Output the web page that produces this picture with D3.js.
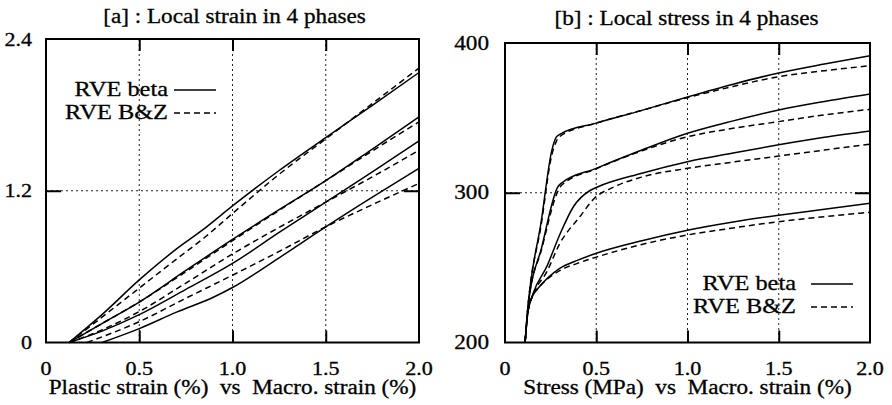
<!DOCTYPE html>
<html>
<head>
<meta charset="utf-8">
<script src="https://cdn.jsdelivr.net/npm/d3@7"></script>
<style>
  html, body { margin: 0; padding: 0; background: #fff; }
  svg text { font-family: "Liberation Serif", "Times New Roman", serif; fill: #000; stroke: #000; stroke-width: 0.3px; white-space: pre; }
</style>
</head>
<body>
<svg id="chart" width="892" height="405"></svg>
<script>
// ---------------- DATA ----------------
// Panel [a]: local plastic strain (%) vs macro strain (%)
const strainTicksX = [0, 0.5, 1.0, 1.5, 2.0];
const strainTickLabelsX = ["0", "0.5", "1.0", "1.5", "2.0"];
const strainTicksY = [0, 1.2, 2.4];
const strainTickLabelsY = ["0", "1.2", "2.4"];

const strainBeta1 = [[0.124,0],[0.3,0.22],[0.5,0.495],[0.7,0.74],[0.84,0.89],[1.0,1.08],[1.25,1.36],[1.5,1.62],[1.75,1.875],[2.0,2.135]];
const strainBZ1   = [[0.124,0],[0.3,0.20],[0.5,0.43],[0.7,0.66],[0.85,0.83],[1.0,1.02],[1.25,1.33],[1.5,1.61],[1.75,1.89],[2.0,2.17]];
const strainBeta2 = [[0.124,0],[0.3,0.15],[0.5,0.32],[0.75,0.57],[1.0,0.815],[1.25,1.05],[1.5,1.28],[1.75,1.53],[2.0,1.785]];
const strainBZ2   = [[0.124,0],[0.3,0.15],[0.5,0.32],[0.75,0.56],[1.0,0.805],[1.25,1.045],[1.5,1.28],[1.75,1.515],[2.0,1.745]];
const strainBeta3 = [[0.124,0],[0.3,0.09],[0.5,0.22],[0.75,0.42],[1.0,0.625],[1.25,0.87],[1.5,1.11],[1.75,1.35],[2.0,1.595]];
const strainBZ3   = [[0.124,0],[0.3,0.10],[0.5,0.245],[0.75,0.47],[1.0,0.70],[1.25,0.91],[1.5,1.11],[1.75,1.31],[2.0,1.52]];
const strainBeta4 = [[0.30,0],[0.5,0.11],[0.7,0.24],[0.9,0.36],[1.0,0.435],[1.25,0.67],[1.5,0.915],[1.75,1.15],[2.0,1.377]];
const strainBZ4   = [[0.22,0],[0.5,0.165],[0.75,0.35],[1.0,0.532],[1.25,0.72],[1.5,0.915],[1.75,1.09],[2.0,1.258]];

// Panel [b]: local stress (MPa) vs macro strain (%)
const stressTicksX = [0, 0.5, 1.0, 1.5, 2.0];
const stressTickLabelsX = ["0", "0.5", "1.0", "1.5", "2.0"];
const stressTicksY = [200, 300, 400];
const stressTickLabelsY = ["200", "300", "400"];

const stressBeta1 = [[0.11,200],[0.12,216],[0.2,282],[0.256,328],[0.28,337],[0.3,339],[0.5,346.5],[0.75,355],[1.0,364],[1.25,372.5],[1.5,380],[1.75,386],[2.0,391.5]];
const stressBZ1   = [[0.11,200],[0.12,216],[0.2,280],[0.256,325],[0.28,334],[0.3,337.5],[0.5,346.5],[0.75,355],[1.0,363.5],[1.25,371],[1.5,377.5],[1.75,381.5],[2.0,384.8]];
const stressBeta2 = [[0.11,200],[0.13,228],[0.2,263],[0.29,304],[0.31,306.5],[0.5,316.3],[0.75,328.5],[1.0,339.7],[1.25,348],[1.5,355.3],[1.75,361],[2.0,366]];
const stressBZ2   = [[0.11,200],[0.13,228],[0.2,262],[0.29,301],[0.31,305],[0.5,316],[0.75,328],[1.0,337.4],[1.25,343],[1.5,347.5],[1.75,352],[2.0,355.7]];
const stressBeta3 = [[0.11,200],[0.125,220],[0.155,233],[0.23,251],[0.30,272],[0.374,290.5],[0.466,301.5],[0.5,303.5],[0.75,313],[1.0,320.7],[1.25,326.5],[1.5,332],[1.75,337],[2.0,341.2]];
const stressBZ3   = [[0.11,200],[0.125,220],[0.155,232],[0.228,247],[0.30,266],[0.41,284],[0.49,296.3],[0.6,304],[0.75,310.5],[1.0,316.3],[1.25,320.5],[1.5,324.5],[1.75,328.5],[2.0,332.5]];
const stressBeta4 = [[0.11,200],[0.125,220],[0.155,232],[0.18,236],[0.3,249.5],[0.4,255],[0.5,259.6],[0.75,268],[1.0,275],[1.25,280.5],[1.5,285],[1.75,289],[2.0,293]];
const stressBZ4   = [[0.11,200],[0.125,220],[0.155,232],[0.18,236],[0.3,248],[0.4,253],[0.5,257],[0.75,265.5],[1.0,271.8],[1.25,276.5],[1.5,280.7],[1.75,284],[2.0,287]];

const legendLabels = ["RVE beta", "RVE B&Z"];

// ---------------- DRAWING ----------------
const svg = d3.select("#chart");
const SX = 1.16; // horizontal stretch of the scanned type

function label(g, x, y, str, size, anchor) {
  g.append("text")
    .attr("transform", `translate(${x},${y}) scale(${SX},1)`)
    .attr("text-anchor", anchor || "middle")
    .style("font-size", size + "px")
    .text(str);
}

function panel(cfg) {
  const x = d3.scaleLinear().domain(cfg.xDomain).range([cfg.left, cfg.right]);
  const y = d3.scaleLinear().domain(cfg.yDomain).range([cfg.bottom, cfg.top]);
  const g = svg.append("g");

  // dotted grid
  const gx = cfg.xTicks.slice(1, -1), gy = cfg.yTicks.slice(1, -1);
  g.selectAll(".gx").data(gx).join("line")
    .attr("x1", d => x(d)).attr("x2", d => x(d))
    .attr("y1", cfg.top).attr("y2", cfg.bottom)
    .attr("stroke", "#222").attr("stroke-width", 1).attr("stroke-dasharray", "2,3");
  g.selectAll(".gy").data(gy).join("line")
    .attr("x1", cfg.left).attr("x2", cfg.right)
    .attr("y1", d => y(d)).attr("y2", d => y(d))
    .attr("stroke", "#222").attr("stroke-width", 1).attr("stroke-dasharray", "2,3");

  // axes with inward ticks (bottom/top/left/right)
  const axB = d3.axisBottom(x).tickValues(gx).tickSize(-12).tickFormat("");
  const axT = d3.axisTop(x).tickValues(gx).tickSize(-12).tickFormat("");
  const axL = d3.axisLeft(y).tickValues(gy).tickSize(-15).tickFormat("");
  const axR = d3.axisRight(y).tickValues(gy).tickSize(-15).tickFormat("");
  [[axB, `translate(0,${cfg.bottom})`], [axT, `translate(0,${cfg.top})`],
   [axL, `translate(${cfg.left},0)`], [axR, `translate(${cfg.right},0)`]].forEach(([ax, tr]) => {
    const a = g.append("g").attr("transform", tr).call(ax);
    a.select(".domain").remove();
    a.selectAll(".tick line").attr("stroke", "#000").attr("stroke-width", 2);
  });

  // frame
  g.append("rect").attr("x", cfg.left).attr("y", cfg.top)
    .attr("width", cfg.right - cfg.left).attr("height", cfg.bottom - cfg.top)
    .attr("fill", "none").attr("stroke", "#000").attr("stroke-width", 2);

  // tick labels
  cfg.xTicks.forEach((t, i) => label(g, x(t), cfg.bottom + 32, cfg.xLabels[i], 19, "middle"));
  cfg.yTicks.forEach((t, i) => label(g, cfg.yLabelX, y(t) + 6.5, cfg.yLabels[i], cfg.yLabelSize, "end"));

  // curves
  const line = d3.line().x(d => x(d[0])).y(d => y(d[1])).curve(d3.curveMonotoneX);
  cfg.solid.forEach(s => g.append("path").attr("d", line(s))
    .attr("fill", "none").attr("stroke", "#000").attr("stroke-width", 1.5));
  cfg.dashed.forEach(s => g.append("path").attr("d", line(s))
    .attr("fill", "none").attr("stroke", "#000").attr("stroke-width", 1.5).attr("stroke-dasharray", "6,4"));

  // legend
  const L = cfg.legend;
  label(g, L.textRight, L.y1 + 6, legendLabels[0], 21, "end");
  label(g, L.textRight, L.y2 + 6, legendLabels[1], 21, "end");
  g.append("line").attr("x1", L.lx1).attr("x2", L.lx2).attr("y1", L.y1).attr("y2", L.y1)
    .attr("stroke", "#000").attr("stroke-width", 1.5);
  g.append("line").attr("x1", L.lx1).attr("x2", L.lx2).attr("y1", L.y2).attr("y2", L.y2)
    .attr("stroke", "#000").attr("stroke-width", 1.5).attr("stroke-dasharray", "6,4");

  // title and axis label
  label(g, (cfg.left + cfg.right) / 2 + cfg.titleDx, cfg.titleY, cfg.title, 20, "middle");
  label(g, (cfg.left + cfg.right) / 2 + cfg.xTitleDx, 394, cfg.xTitle, 20, "middle");
}

panel({
  left: 46, right: 419, top: 39, bottom: 342.5,
  xDomain: [0, 2], yDomain: [0, 2.4],
  xTicks: strainTicksX, xLabels: strainTickLabelsX,
  yTicks: strainTicksY, yLabels: strainTickLabelsY,
  yLabelX: 32, yLabelSize: 19,
  solid: [strainBeta1, strainBeta2, strainBeta3, strainBeta4],
  dashed: [strainBZ1, strainBZ2, strainBZ3, strainBZ4],
  legend: { textRight: 168, lx1: 174, lx2: 216, y1: 90, y2: 113 },
  title: "[a] : Local strain in 4 phases", titleY: 23, titleDx: 2,
  xTitle: "Plastic strain (%)  vs  Macro. strain (%)", xTitleDx: 0
});

panel({
  left: 505, right: 870, top: 43, bottom: 342.5,
  xDomain: [0, 2], yDomain: [200, 400],
  xTicks: stressTicksX, xLabels: stressTickLabelsX,
  yTicks: stressTicksY, yLabels: stressTickLabelsY,
  yLabelX: 489, yLabelSize: 20,
  solid: [stressBeta1, stressBeta2, stressBeta3, stressBeta4],
  dashed: [stressBZ1, stressBZ2, stressBZ3, stressBZ4],
  legend: { textRight: 796, lx1: 811, lx2: 853, y1: 284, y2: 307 },
  title: "[b] : Local stress in 4 phases", titleY: 25, titleDx: -1,
  xTitle: "Stress (MPa)  vs  Macro. strain (%)", xTitleDx: 0
});
</script>
</body>
</html>
